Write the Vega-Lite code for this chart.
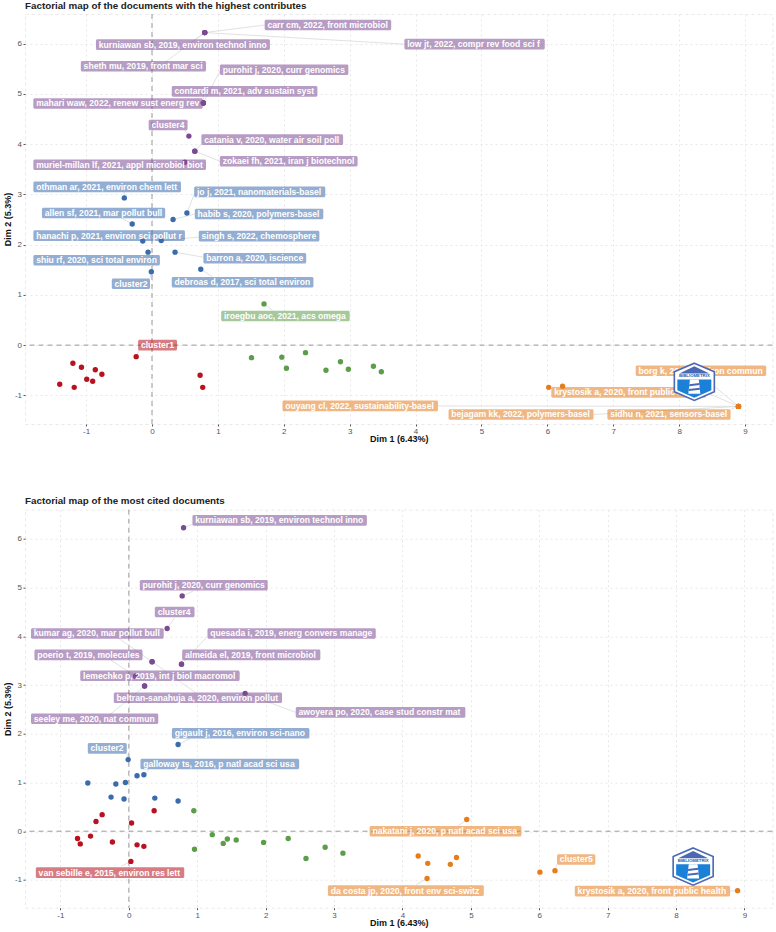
{
"$schema":"https://vega.github.io/schema/vega-lite/v6.json",
"padding":{"left":3,"top":0,"right":0,"bottom":0},
"background":"white",
"spacing":85.7,
"bounds":"flush",
"config":{
"view":{"stroke":"#e9e9e9","strokeDash":[3,3]},
"font":"Liberation Sans",
"axis":{"grid":true,"gridColor":"#e8e8e8","gridDash":[2,3],"domain":false,"tickColor":"#555555","tickSize":2,"labelColor":"#555555","labelFontSize":8,"labelPadding":1.5,"titleFontSize":9,"titleFontWeight":"bold","titleColor":"#111111","labelFont":"Liberation Sans","titleFont":"Liberation Sans"},
"title":{"anchor":"start","frame":"group","fontSize":9.8,"fontWeight":"bold","color":"#222222","font":"Liberation Sans","offset":3}
},
"datasets":{
"top":[
{"doc":"carr cm, 2022, front microbiol","cluster":"4","x":0.80,"y":6.22,"lx0":1.71,"lx1":3.63,"ly":6.37,"sx":1.71,"sy":6.37},
{"doc":"low jt, 2022, compr rev food sci f","cluster":"4","x":0.80,"y":6.22,"lx0":3.83,"lx1":5.96,"ly":5.99,"sx":3.83,"sy":5.99},
{"doc":"kurniawan sb, 2019, environ technol inno","cluster":"4","x":0.80,"y":6.22,"lx0":-0.85,"lx1":1.79,"ly":5.98,"sx":0.47,"sy":5.9},
{"doc":"sheth mu, 2019, front mar sci","cluster":"4","x":0.80,"y":6.22,"lx0":-1.08,"lx1":0.82,"ly":5.55,"sx":0.19,"sy":5.62},
{"doc":"purohit j, 2020, curr genomics","cluster":"4","x":0.78,"y":4.82,"lx0":1.03,"lx1":2.98,"ly":5.48,"sx":1.03,"sy":5.45},
{"doc":"contardi m, 2021, adv sustain syst","cluster":"4","x":0.78,"y":4.82,"lx0":0.30,"lx1":2.51,"ly":5.05,"sx":0.78,"sy":5.0},
{"doc":"mahari waw, 2022, renew sust energ rev","cluster":"4","x":0.78,"y":4.82,"lx0":-1.80,"lx1":0.77,"ly":4.81,"sx":0.77,"sy":4.81},
{"doc":"cluster4","cluster":"4","x":0.56,"y":4.16,"lx0":-0.05,"lx1":0.54,"ly":4.38,"sx":0.5,"sy":4.28},
{"doc":"catania v, 2020, water air soil poll","cluster":"4","x":0.65,"y":3.86,"lx0":0.75,"lx1":2.90,"ly":4.09,"sx":0.75,"sy":4.0},
{"doc":"zokaei fh, 2021, iran j biotechnol","cluster":"4","x":0.65,"y":3.86,"lx0":1.03,"lx1":3.12,"ly":3.66,"sx":1.03,"sy":3.66},
{"doc":"muriel-millan lf, 2021, appl microbiol biot","cluster":"4","x":0.50,"y":3.64,"lx0":-1.80,"lx1":0.82,"ly":3.59,"sx":0.5,"sy":3.6},
{"doc":"othman ar, 2021, environ chem lett","cluster":"2","x":-0.42,"y":2.93,"lx0":-1.80,"lx1":0.44,"ly":3.15,"sx":-0.42,"sy":3.05},
{"doc":"jo j, 2021, nanomaterials-basel","cluster":"2","x":0.53,"y":2.63,"lx0":0.64,"lx1":2.63,"ly":3.05,"sx":0.64,"sy":3.0},
{"doc":"allen sf, 2021, mar pollut bull","cluster":"2","x":-0.30,"y":2.41,"lx0":-1.67,"lx1":0.20,"ly":2.63,"sx":-0.47,"sy":2.53},
{"doc":"habib s, 2020, polymers-basel","cluster":"2","x":0.32,"y":2.50,"lx0":0.65,"lx1":2.60,"ly":2.61,"sx":0.65,"sy":2.61},
{"doc":"hanachi p, 2021, environ sci pollut r","cluster":"2","x":-0.14,"y":2.07,"lx0":-1.80,"lx1":0.50,"ly":2.18,"sx":-0.14,"sy":2.15},
{"doc":"singh s, 2022, chemosphere","cluster":"2","x":0.14,"y":2.08,"lx0":0.71,"lx1":2.54,"ly":2.17,"sx":0.71,"sy":2.15},
{"doc":"shiu rf, 2020, sci total environ","cluster":"2","x":-0.06,"y":1.85,"lx0":-1.80,"lx1":0.12,"ly":1.69,"sx":-0.06,"sy":1.75},
{"doc":"barron a, 2020, iscience","cluster":"2","x":0.35,"y":1.85,"lx0":0.78,"lx1":2.34,"ly":1.73,"sx":0.78,"sy":1.75},
{"doc":"cluster2","cluster":"2","x":-0.01,"y":1.46,"lx0":-0.61,"lx1":-0.03,"ly":1.22,"sx":-0.03,"sy":1.33},
{"doc":"debroas d, 2017, sci total environ","cluster":"2","x":0.74,"y":1.51,"lx0":0.30,"lx1":2.45,"ly":1.25,"sx":0.92,"sy":1.36},
{"doc":"iroegbu aoc, 2021, acs omega","cluster":"3","x":1.70,"y":0.82,"lx0":1.05,"lx1":3.00,"ly":0.58,"sx":1.83,"sy":0.69},
{"doc":"cluster1","cluster":"1","x":-0.24,"y":-0.23,"lx0":-0.21,"lx1":0.38,"ly":0.0,"sx":-0.2,"sy":-0.1},
{"doc":"ouyang cl, 2022, sustainability-basel","cluster":"5","x":8.90,"y":-1.22,"lx0":1.98,"lx1":4.34,"ly":-1.21,"sx":4.34,"sy":-1.21},
{"doc":"borg k, 2021, environ commun","cluster":"5","x":8.90,"y":-1.22,"lx0":7.34,"lx1":9.32,"ly":-0.51,"sx":8.35,"sy":-0.62},
{"doc":"krystosik a, 2020, front public health","cluster":"5","x":8.90,"y":-1.22,"lx0":6.06,"lx1":8.41,"ly":-0.94,"sx":8.41,"sy":-0.94},
{"doc":"bejagam kk, 2022, polymers-basel","cluster":"5","x":8.90,"y":-1.22,"lx0":4.50,"lx1":6.70,"ly":-1.38,"sx":6.70,"sy":-1.38},
{"doc":"sidhu n, 2021, sensors-basel","cluster":"5","x":8.90,"y":-1.22,"lx0":6.91,"lx1":8.78,"ly":-1.38,"sx":8.78,"sy":-1.28},
{"cluster":"1","x":-1.20,"y":-0.36},{"cluster":"1","x":-1.07,"y":-0.44},{"cluster":"1","x":-0.86,"y":-0.49},{"cluster":"1","x":-0.76,"y":-0.58},{"cluster":"1","x":-0.99,"y":-0.68},{"cluster":"1","x":-0.90,"y":-0.72},{"cluster":"1","x":-1.40,"y":-0.78},{"cluster":"1","x":-1.18,"y":-0.84},{"cluster":"1","x":0.73,"y":-0.60},{"cluster":"1","x":0.77,"y":-0.84},
{"cluster":"3","x":1.51,"y":-0.25},{"cluster":"3","x":1.97,"y":-0.24},{"cluster":"3","x":2.33,"y":-0.15},{"cluster":"3","x":2.04,"y":-0.46},{"cluster":"3","x":2.64,"y":-0.50},{"cluster":"3","x":2.86,"y":-0.33},{"cluster":"3","x":2.98,"y":-0.48},{"cluster":"3","x":3.36,"y":-0.42},{"cluster":"3","x":3.48,"y":-0.53},
{"cluster":"5","x":6.02,"y":-0.84},{"cluster":"5","x":6.23,"y":-0.82}
],
"bottom":[
{"doc":"kurniawan sb, 2019, environ technol inno","cluster":"4","x":0.80,"y":6.23,"lx0":0.93,"lx1":3.48,"ly":6.38,"sx":0.93,"sy":6.3},
{"doc":"purohit j, 2020, curr genomics","cluster":"4","x":0.78,"y":4.83,"lx0":0.16,"lx1":2.03,"ly":5.05,"sx":0.94,"sy":4.93},
{"doc":"cluster4","cluster":"4","x":0.56,"y":4.16,"lx0":0.38,"lx1":0.96,"ly":4.50,"sx":0.67,"sy":4.38},
{"doc":"kumar ag, 2020, mar pollut bull","cluster":"4","x":0.34,"y":3.48,"lx0":-1.43,"lx1":0.51,"ly":4.06,"sx":-0.16,"sy":3.97},
{"doc":"quesada i, 2019, energ convers manage","cluster":"4","x":0.77,"y":3.43,"lx0":1.15,"lx1":3.61,"ly":4.06,"sx":1.13,"sy":3.97},
{"doc":"poerio t, 2019, molecules","cluster":"4","x":0.10,"y":3.18,"lx0":-1.38,"lx1":0.20,"ly":3.62,"sx":-0.26,"sy":3.51},
{"doc":"almeida el, 2019, front microbiol","cluster":"4","x":0.77,"y":3.43,"lx0":0.78,"lx1":2.80,"ly":3.62,"sx":0.78,"sy":3.53},
{"doc":"lemechko p, 2019, int j biol macromol","cluster":"4","x":0.10,"y":3.18,"lx0":-0.71,"lx1":1.62,"ly":3.19,"sx":0.10,"sy":3.19},
{"doc":"beltran-sanahuja a, 2020, environ pollut","cluster":"4","x":0.34,"y":3.48,"lx0":-0.22,"lx1":2.24,"ly":2.74,"sx":0.98,"sy":2.84},
{"doc":"awoyera po, 2020, case stud constr mat","cluster":"4","x":1.70,"y":2.83,"lx0":2.44,"lx1":4.92,"ly":2.44,"sx":2.44,"sy":2.44},
{"doc":"seeley me, 2020, nat commun","cluster":"4","x":0.23,"y":2.98,"lx0":-1.43,"lx1":0.43,"ly":2.31,"sx":-0.28,"sy":2.39},
{"doc":"gigault j, 2016, environ sci-nano","cluster":"2","x":0.72,"y":1.78,"lx0":0.63,"lx1":2.64,"ly":2.01,"sx":0.89,"sy":1.9},
{"doc":"cluster2","cluster":"2","x":-0.01,"y":1.47,"lx0":-0.60,"lx1":-0.03,"ly":1.70,"sx":-0.03,"sy":1.6},
{"doc":"galloway ts, 2016, p natl acad sci usa","cluster":"2","x":0.22,"y":1.16,"lx0":0.17,"lx1":2.49,"ly":1.38,"sx":0.3,"sy":1.27},
{"doc":"van sebille e, 2015, environ res lett","cluster":"1","x":0.03,"y":-0.62,"lx0":-1.36,"lx1":0.81,"ly":-0.85,"sx":-0.11,"sy":-0.72},
{"doc":"nakatani j, 2020, p natl acad sci usa","cluster":"5","x":4.94,"y":0.24,"lx0":3.52,"lx1":5.74,"ly":0.0,"sx":4.81,"sy":0.1},
{"doc":"da costa jp, 2020, front env sci-switz","cluster":"5","x":4.36,"y":-0.97,"lx0":2.91,"lx1":5.19,"ly":-1.22,"sx":4.20,"sy":-1.1},
{"doc":"krystosik a, 2020, front public health","cluster":"5","x":8.90,"y":-1.22,"lx0":6.52,"lx1":8.79,"ly":-1.23,"sx":8.79,"sy":-1.23},
{"doc":"cluster5","cluster":"5","x":6.23,"y":-0.81,"lx0":6.26,"lx1":6.82,"ly":-0.58,"sx":6.26,"sy":-0.68},
{"cluster":"4","x":0.23,"y":2.98},
{"cluster":"2","x":0.12,"y":1.14},{"cluster":"2","x":-0.60,"y":0.99},{"cluster":"2","x":-0.19,"y":0.97},{"cluster":"2","x":-0.05,"y":1.00},{"cluster":"2","x":-0.26,"y":0.70},{"cluster":"2","x":-0.07,"y":0.66},{"cluster":"2","x":0.38,"y":0.68},{"cluster":"2","x":0.72,"y":0.62},
{"cluster":"1","x":0.37,"y":0.42},{"cluster":"1","x":0.04,"y":0.17},{"cluster":"1","x":-0.39,"y":0.34},{"cluster":"1","x":-0.48,"y":0.20},{"cluster":"1","x":-0.75,"y":-0.15},{"cluster":"1","x":-0.56,"y":-0.10},{"cluster":"1","x":-0.71,"y":-0.26},{"cluster":"1","x":-0.24,"y":-0.22},{"cluster":"1","x":0.12,"y":-0.28},{"cluster":"1","x":0.22,"y":-0.31},
{"cluster":"3","x":0.95,"y":0.42},{"cluster":"3","x":1.22,"y":-0.07},{"cluster":"3","x":1.38,"y":-0.25},{"cluster":"3","x":1.44,"y":-0.16},{"cluster":"3","x":1.57,"y":-0.18},{"cluster":"3","x":0.96,"y":-0.37},{"cluster":"3","x":1.97,"y":-0.23},{"cluster":"3","x":2.33,"y":-0.15},{"cluster":"3","x":2.87,"y":-0.33},{"cluster":"3","x":3.13,"y":-0.45},{"cluster":"3","x":2.59,"y":-0.56},
{"cluster":"5","x":4.23,"y":-0.51},{"cluster":"5","x":4.37,"y":-0.66},{"cluster":"5","x":4.79,"y":-0.54},{"cluster":"5","x":4.70,"y":-0.68},{"cluster":"5","x":6.01,"y":-0.84}
]
},
"vconcat":[
{"title":"Factorial map of the documents with the highest contributes","width":747.5,"height":410,
"data":{"name":"top"},
"encoding":{
"x":{"field":"x","type":"quantitative","scale":{"domain":[-1.927,9.416],"nice":false,"zero":false},"axis":{"values":[-1,0,1,2,3,4,5,6,7,8,9],"title":"Dim 1 (6.43%)","labelExpr":"datum.value","titlePadding":-1}},
"y":{"field":"y","type":"quantitative","scale":{"domain":[-1.57,6.59],"nice":false,"zero":false,"padding":0},"axis":{"values":[-1,0,1,2,3,4,5,6],"title":"Dim 2 (5.3%)","labelExpr":"datum.value","titlePadding":1.5}}
},
"layer":[
{"data":{"values":[{"z":0}]},"mark":{"type":"rule","color":"#8f8f8f","strokeDash":[5,4],"strokeWidth":0.9},"encoding":{"x":{"field":"z","type":"quantitative"},"y":null}},
{"data":{"values":[{"z":0}]},"mark":{"type":"rule","color":"#8f8f8f","strokeDash":[5,4],"strokeWidth":0.9},"encoding":{"y":{"field":"z","type":"quantitative"},"x":null}},
{"transform":[{"filter":"isValid(datum.sx)"}],"mark":{"type":"rule","color":"#d9d9d9","strokeWidth":0.8},"encoding":{"x2":{"field":"sx"},"y2":{"field":"sy"}}},
{"mark":{"type":"circle","size":29,"opacity":1},"encoding":{"color":{"field":"cluster","type":"nominal","scale":{"domain":["1","2","3","4","5"],"range":["#b8111f","#3a6bad","#5b9d49","#7c4a93","#e67c1b"]},"legend":null}}},
{"transform":[{"filter":"isValid(datum.lx0)"}],"mark":{"type":"bar","orient":"horizontal","height":10.6,"cornerRadius":1.5,"opacity":0.55},"encoding":{"x":{"field":"lx0","type":"quantitative"},"x2":{"field":"lx1"},"y":{"field":"ly","type":"quantitative"},"color":{"field":"cluster","type":"nominal","legend":null}}},
{"transform":[{"filter":"isValid(datum.lx0)"}],"mark":{"type":"text","align":"left","baseline":"middle","dx":2.8,"color":"white","fontSize":8.6,"fontWeight":"bold","font":"Liberation Sans"},"encoding":{"x":{"field":"lx0","type":"quantitative"},"y":{"field":"ly","type":"quantitative"},"text":{"field":"doc"}}},
{"data":{"values":[{"lx":8.23,"ly":-0.73}]},"encoding":{"x":{"field":"lx","type":"quantitative"},"y":{"field":"ly","type":"quantitative"}},
"layer":[
{"mark":{"type":"point","shape":"M0,-0.93L1,-0.5L1,0.5L0,0.93L-1,0.5L-1,-0.5Z","size":1600,"filled":true,"fill":"white","stroke":"#4a68b4","strokeWidth":1.6,"opacity":1}},
{"mark":{"type":"point","shape":"M-0.85,-0.12L0.85,-0.12L0.85,0.42L0,0.8L-0.85,0.42Z","size":1600,"filled":true,"fill":"#1b80d8","opacity":1}},
{"mark":{"type":"point","shape":"M0,-0.78L0.75,-0.42L-0.75,-0.42Z","size":1600,"filled":true,"fill":"#4a68b4","opacity":1}},
{"mark":{"type":"point","shape":"M-0.22,-0.12L0.22,-0.12L0.3,0.6L-0.3,0.6Z","size":1600,"filled":true,"fill":"white","opacity":1}},
{"mark":{"type":"point","shape":"M-0.25,0.12L0.25,0.06L0.26,0.16L-0.26,0.22ZM-0.27,0.36L0.27,0.3L0.28,0.4L-0.28,0.46Z","size":1600,"filled":true,"fill":"#4a68b4","opacity":1}},
{"mark":{"type":"text","text":"BIBLIOMETRIX","fontSize":4.3,"fontWeight":"bold","color":"#1b5fb0","dy":-6,"align":"center","baseline":"middle"}}
]}
]},
{"title":"Factorial map of the most cited documents","width":747.5,"height":398,
"data":{"name":"bottom"},
"encoding":{
"x":{"field":"x","type":"quantitative","scale":{"domain":[-1.518,9.41],"nice":false,"zero":false},"axis":{"values":[-1,0,1,2,3,4,5,6,7,8,9],"title":"Dim 1 (6.43%)","labelExpr":"datum.value","titlePadding":-1}},
"y":{"field":"y","type":"quantitative","scale":{"domain":[-1.57,6.6],"nice":false,"zero":false,"padding":0},"axis":{"values":[-1,0,1,2,3,4,5,6],"title":"Dim 2 (5.3%)","labelExpr":"datum.value","titlePadding":1.5}}
},
"layer":[
{"data":{"values":[{"z":0}]},"mark":{"type":"rule","color":"#8f8f8f","strokeDash":[5,4],"strokeWidth":0.9},"encoding":{"x":{"field":"z","type":"quantitative"},"y":null}},
{"data":{"values":[{"z":0}]},"mark":{"type":"rule","color":"#8f8f8f","strokeDash":[5,4],"strokeWidth":0.9},"encoding":{"y":{"field":"z","type":"quantitative"},"x":null}},
{"transform":[{"filter":"isValid(datum.sx)"}],"mark":{"type":"rule","color":"#d9d9d9","strokeWidth":0.8},"encoding":{"x2":{"field":"sx"},"y2":{"field":"sy"}}},
{"mark":{"type":"circle","size":29,"opacity":1},"encoding":{"color":{"field":"cluster","type":"nominal","scale":{"domain":["1","2","3","4","5"],"range":["#b8111f","#3a6bad","#5b9d49","#7c4a93","#e67c1b"]},"legend":null}}},
{"transform":[{"filter":"isValid(datum.lx0)"}],"mark":{"type":"bar","orient":"horizontal","height":10.6,"cornerRadius":1.5,"opacity":0.55},"encoding":{"x":{"field":"lx0","type":"quantitative"},"x2":{"field":"lx1"},"y":{"field":"ly","type":"quantitative"},"color":{"field":"cluster","type":"nominal","legend":null}}},
{"transform":[{"filter":"isValid(datum.lx0)"}],"mark":{"type":"text","align":"left","baseline":"middle","dx":2.8,"color":"white","fontSize":8.6,"fontWeight":"bold","font":"Liberation Sans"},"encoding":{"x":{"field":"lx0","type":"quantitative"},"y":{"field":"ly","type":"quantitative"},"text":{"field":"doc"}}},
{"data":{"values":[{"lx":8.25,"ly":-0.725}]},"encoding":{"x":{"field":"lx","type":"quantitative"},"y":{"field":"ly","type":"quantitative"}},
"layer":[
{"mark":{"type":"point","shape":"M0,-0.93L1,-0.5L1,0.5L0,0.93L-1,0.5L-1,-0.5Z","size":1600,"filled":true,"fill":"white","stroke":"#4a68b4","strokeWidth":1.6,"opacity":1}},
{"mark":{"type":"point","shape":"M-0.85,-0.12L0.85,-0.12L0.85,0.42L0,0.8L-0.85,0.42Z","size":1600,"filled":true,"fill":"#1b80d8","opacity":1}},
{"mark":{"type":"point","shape":"M0,-0.78L0.75,-0.42L-0.75,-0.42Z","size":1600,"filled":true,"fill":"#4a68b4","opacity":1}},
{"mark":{"type":"point","shape":"M-0.22,-0.12L0.22,-0.12L0.3,0.6L-0.3,0.6Z","size":1600,"filled":true,"fill":"white","opacity":1}},
{"mark":{"type":"point","shape":"M-0.25,0.12L0.25,0.06L0.26,0.16L-0.26,0.22ZM-0.27,0.36L0.27,0.3L0.28,0.4L-0.28,0.46Z","size":1600,"filled":true,"fill":"#4a68b4","opacity":1}},
{"mark":{"type":"text","text":"BIBLIOMETRIX","fontSize":4.3,"fontWeight":"bold","color":"#1b5fb0","dy":-6,"align":"center","baseline":"middle"}}
]}
]}
]
}
